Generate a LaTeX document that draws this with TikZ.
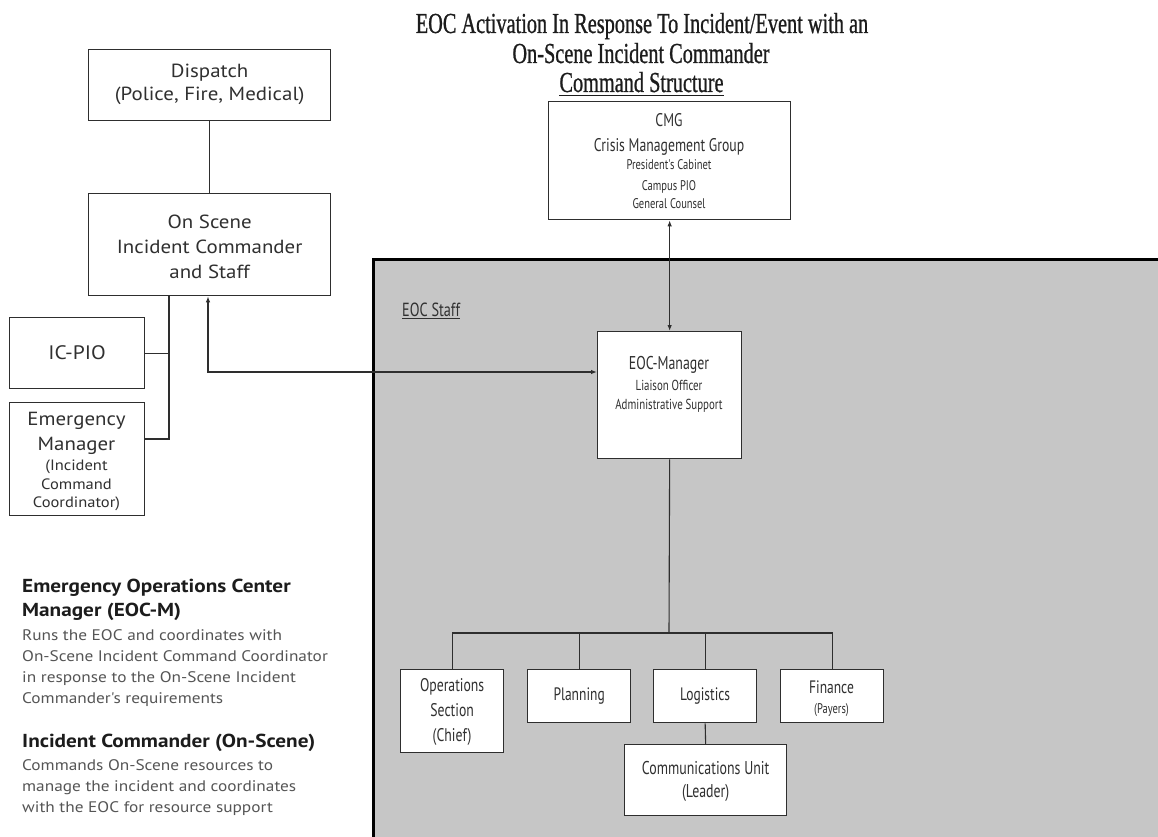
\documentclass[tikz,border=0pt]{standalone}
\usepackage{fontspec}
\setmainfont{PT Sans}
\newfontfamily\condf[FakeStretch=0.75]{PT Sans}
\newfontfamily\widef[FakeStretch=1.1]{PT Sans}
\newfontfamily\notef[FakeStretch=1.13]{PT Sans}
\newfontfamily\titlef[FakeStretch=0.70,FakeBold=0.8]{Liberation Serif}
\usetikzlibrary{arrows.meta}
\definecolor{ink}{HTML}{2E2E2E}
\definecolor{txt}{HTML}{303030}
\definecolor{body}{HTML}{555555}
\definecolor{head}{HTML}{1C1C1C}
\definecolor{panel}{HTML}{C6C6C6}

\begin{document}
\begin{tikzpicture}[x=1pt,y=-1pt,
  box/.style={draw=ink, line width=1.3pt, fill=white, inner sep=0pt, anchor=north west},
  lbl/.style={text=txt, align=center, inner sep=0pt},
  line/.style={text=txt, inner sep=0pt, anchor=base},
  link/.style={draw=ink, line width=1.1pt},
  both/.style={{Latex[length=6pt,width=4.5pt]}-{Latex[length=6pt,width=4.5pt]}},
  note/.style={align=left, inner sep=0pt, anchor=north west}
]
\useasboundingbox (0,0) rectangle (1158,837);

% EOC staff panel
\fill[panel] (373.5,259.5) rectangle (1160,840);
\draw[line width=3pt, black] (373.5,840) -- (373.5,259.5) -- (1160,259.5);
\node[text=txt, inner sep=0pt, anchor=base west, font=\condf\fontsize{19}{22}\selectfont] (staff) at (402,316) {EOC Staff};
\draw[txt, line width=1pt] ([yshift=-2.5pt]staff.base west) -- ([yshift=-2.5pt]staff.base east);

% title
\node[text=head, inner sep=0pt, anchor=base, font=\titlef\fontsize{29}{30}\selectfont] (title1) at (642,33) {EOC Activation In Response To Incident/Event with an};
\node[text=head, inner sep=0pt, anchor=base, font=\titlef\fontsize{29}{30}\selectfont] (title2) at (641,63) {On-Scene Incident Commander};
\node[text=head, inner sep=0pt, anchor=base, font=\titlef\fontsize{29}{30}\selectfont] (title3) at (641.5,92) {Command Structure};
\draw[head, line width=1.6pt] ([yshift=-3.5pt]title3.base west) -- ([yshift=-3.5pt]title3.base east);

% left column boxes
\node[box, minimum width=242pt, minimum height=71pt] (dispatch) at (88,49) {};
\node[lbl, font=\widef\fontsize{19}{23}\selectfont] at ([yshift=1pt]dispatch.center) {Dispatch\\(Police, Fire, Medical)};

\node[box, minimum width=242pt, minimum height=102pt] (onscene) at (88,193) {};
\node[lbl, font=\widef\fontsize{19}{25}\selectfont] at ([yshift=-2pt]onscene.center) {On Scene\\Incident Commander\\and Staff};

\node[box, minimum width=135pt, minimum height=71pt] (icpio) at (9,317) {};
\node[lbl, font=\widef\fontsize{19.5}{22}\selectfont] at (icpio.center) {IC-PIO};

\node[box, minimum width=135pt, minimum height=113pt] (em) at (9,402) {};
\node[line, font=\widef\fontsize{19}{25}\selectfont] (em1) at (76.5,425) {Emergency};
\node[line, font=\widef\fontsize{19}{25}\selectfont] (em2) at (76.5,450) {Manager};
\node[line, font=\widef\fontsize{15}{19}\selectfont] (em3) at (76.5,470) {(Incident};
\node[line, font=\widef\fontsize{15}{19}\selectfont] (em4) at (76.5,489) {Command};
\node[line, font=\widef\fontsize{15}{19}\selectfont] (em5) at (76.5,507) {Coordinator)};

% crisis management group
\node[box, minimum width=242pt, minimum height=118pt] (cmg) at (548,101) {};
\node[line, font=\condf\fontsize{18.3}{25}\selectfont] (cmg1) at (669,127) {CMG};
\node[line, font=\condf\fontsize{18.3}{25}\selectfont] (cmg2) at (669,152) {Crisis Management Group};
\node[line, font=\condf\fontsize{14}{19}\selectfont] (cmg3) at (669,170) {President's Cabinet};
\node[line, font=\condf\fontsize{14}{19}\selectfont] (cmg4) at (669,190) {Campus PIO};
\node[line, font=\condf\fontsize{14}{19}\selectfont] (cmg5) at (669,208) {General Counsel};

% EOC manager
\node[box, minimum width=144pt, minimum height=127pt] (eocm) at (597,331) {};
\node[line, font=\condf\fontsize{18.5}{22}\selectfont] (eocm1) at (669,369) {EOC-Manager};
\node[line, font=\condf\fontsize{14.5}{19}\selectfont] (eocm2) at (669,390) {Liaison Officer};
\node[line, font=\condf\fontsize{14.5}{19}\selectfont] (eocm3) at (669,409) {Administrative Support};

% sections
\node[box, minimum width=103pt, minimum height=83pt] (ops) at (400,669) {};
\node[lbl, font=\condf\fontsize{18.3}{25}\selectfont] at ([yshift=-1pt]ops.center) {Operations\\Section\\(Chief)};

\node[box, minimum width=103pt, minimum height=53pt] (plan) at (527,669) {};
\node[lbl, font=\condf\fontsize{18}{22}\selectfont] at (plan.center) {Planning};

\node[box, minimum width=103pt, minimum height=53pt] (logi) at (653,669) {};
\node[lbl, font=\condf\fontsize{18}{22}\selectfont] at (logi.center) {Logistics};

\node[box, minimum width=103pt, minimum height=53pt] (fin) at (780,669) {};
\node[line, font=\condf\fontsize{18}{22}\selectfont] (fin1) at (831.5,693) {Finance};
\node[line, font=\condf\fontsize{14}{18}\selectfont] (fin2) at (831.5,713) {(Payers)};

\node[box, minimum width=162pt, minimum height=71pt] (comms) at (624,744) {};
\node[lbl, font=\condf\fontsize{18.5}{23}\selectfont] at ([yshift=-1pt]comms.center) {Communications Unit\\(Leader)};

% connectors
\draw[link] (dispatch.south) -- (onscene.north);
\coordinate (trunk) at (169,439);
\draw[link] (onscene.south -| trunk) -- (trunk) -- (trunk -| em.east);
\draw[link] (icpio.east) -- (icpio.east -| trunk);
\coordinate (bend) at (208,372);
\draw[link, both] (onscene.south -| bend) -- (bend) -- (bend -| eocm.west);
\draw[link, both] (cmg.south) -- (eocm.north);

\coordinate (hub) at (669,633);
\draw[link] (eocm.south) -- (hub);
\draw[link] (ops.north) -- (ops.north |- hub) -- (fin.north |- hub) -- (fin.north);
\draw[link] (plan.north) -- (plan.north |- hub);
\draw[link] (logi.north) -- (logi.north |- hub);
\draw[link] (logi.south) -- (comms.north);

% role notes
\node[note, text=head, font=\notef\bfseries\fontsize{18.8}{24}\selectfont] (n1) at (22,579) {Emergency Operations Center\\Manager (EOC-M)};
\node[note, text=body, font=\notef\fontsize{15.3}{21}\selectfont] (n2) at (22,629) {Runs the EOC and coordinates with\\On-Scene Incident Command Coordinator\\in response to the On-Scene Incident\\Commander's requirements};
\node[note, text=head, font=\notef\bfseries\fontsize{18.8}{24}\selectfont] (n3) at (22,734) {Incident Commander (On-Scene)};
\node[note, text=body, font=\notef\fontsize{15.3}{21}\selectfont] (n4) at (22,759) {Commands On-Scene resources to\\manage the incident and coordinates\\with the EOC for resource support};
\end{tikzpicture}
\end{document}
